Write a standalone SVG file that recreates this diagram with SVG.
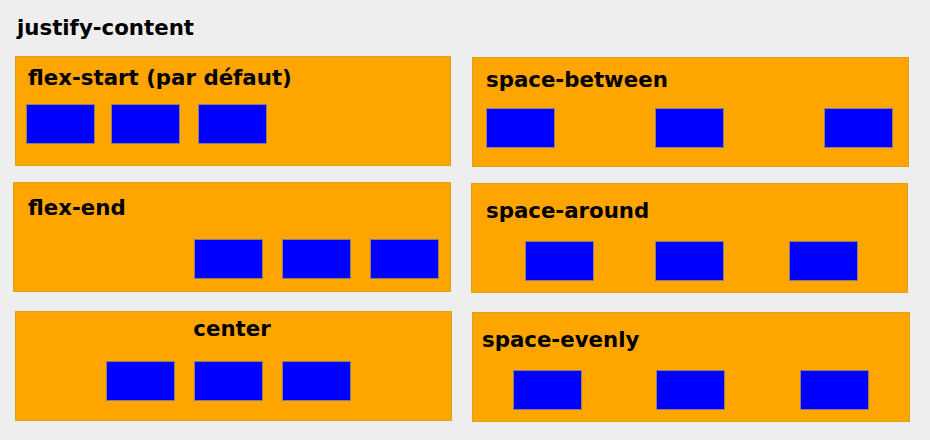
<svg xmlns="http://www.w3.org/2000/svg" width="930" height="440" viewBox="0 0 930 440">
<style>
.bg{fill:#eeeeee}
.panel{fill:#ffa500;stroke:#d9a21b;stroke-width:1}
.item{fill:#0000ff;stroke:#8a7f7a;stroke-width:1}
.lbl{font-family:"DejaVu Sans",Verdana,sans-serif;font-weight:bold;font-size:21.3px;fill:#000}
</style>
<rect class="bg" x="0" y="0" width="930" height="440"/>
<text class="lbl" x="17" y="35">justify-content</text>
<g id="flex-start">
<rect class="panel" x="15.5" y="56.5" width="435" height="109"/>
<text class="lbl" x="28" y="85">flex-start (par défaut)</text>
<rect class="item" x="26.5" y="104.5" width="68" height="39"/>
<rect class="item" x="111.5" y="104.5" width="68" height="39"/>
<rect class="item" x="198.5" y="104.5" width="68" height="39"/>
</g>
<g id="space-between">
<rect class="panel" x="472.5" y="57.5" width="436" height="109"/>
<text class="lbl" x="486" y="87">space-between</text>
<rect class="item" x="486.5" y="108.5" width="68" height="39"/>
<rect class="item" x="655.5" y="108.5" width="68" height="39"/>
<rect class="item" x="824.5" y="108.5" width="68" height="39"/>
</g>
<g id="flex-end">
<rect class="panel" x="13.5" y="182.5" width="437" height="109"/>
<text class="lbl" x="28" y="215">flex-end</text>
<rect class="item" x="194.5" y="239.5" width="68" height="39"/>
<rect class="item" x="282.5" y="239.5" width="68" height="39"/>
<rect class="item" x="370.5" y="239.5" width="68" height="39"/>
</g>
<g id="space-around">
<rect class="panel" x="471.5" y="183.5" width="436" height="109"/>
<text class="lbl" x="486" y="218">space-around</text>
<rect class="item" x="525.5" y="241.5" width="68" height="39"/>
<rect class="item" x="655.5" y="241.5" width="68" height="39"/>
<rect class="item" x="789.5" y="241.5" width="68" height="39"/>
</g>
<g id="center">
<rect class="panel" x="15.5" y="311.5" width="436" height="109"/>
<text class="lbl" x="232" y="336" text-anchor="middle">center</text>
<rect class="item" x="106.5" y="361.5" width="68" height="39"/>
<rect class="item" x="194.5" y="361.5" width="68" height="39"/>
<rect class="item" x="282.5" y="361.5" width="68" height="39"/>
</g>
<g id="space-evenly">
<rect class="panel" x="472.5" y="312.5" width="437" height="109"/>
<text class="lbl" x="482" y="347">space-evenly</text>
<rect class="item" x="513.5" y="370.5" width="68" height="39"/>
<rect class="item" x="656.5" y="370.5" width="68" height="39"/>
<rect class="item" x="800.5" y="370.5" width="68" height="39"/>
</g>
<g id="connectors"/>
</svg>
